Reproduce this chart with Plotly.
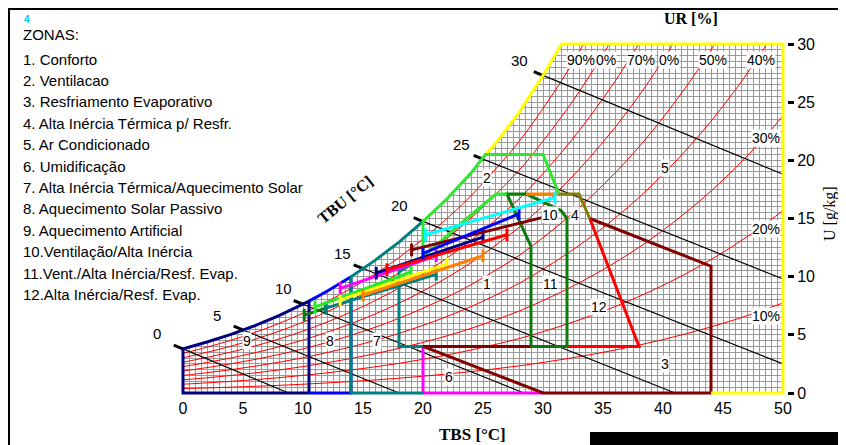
import numpy as np
import plotly.graph_objects as go

# ---------------- data ----------------
# saturation curve (UR 100%), TBS [°C] vs U [g/kg]
SAT_T = [0, 2, 4, 6, 8, 10, 12, 14, 16, 18, 20, 22, 24, 26, 28, 30, 32, 34, 36, 38, 40, 42, 44, 46, 48, 50]
SAT_U = [3.79, 4.38, 5.04, 5.79, 6.65, 7.63, 8.75, 10.0, 11.4, 12.97, 14.75, 16.7, 18.9, 21.4, 24.1, 27.3,
         30.8, 34.7, 39.0, 43.8, 49.2, 55.2, 61.9, 69.4, 77.8, 87.2]
RH_LEVELS = [10, 20, 30, 40, 50, 60, 70, 80, 90]
RH_LABELS = ["10%", "20%", "30%", "40%", "50%", "0%", "70%", "0%", "90%"]
RH_LABEL_T = [48.6, 48.6, 48.6, 48.2, 44.2, 40.5, 38.2, 35.25, 33.2]
RH_LABEL_U = [6.65, 14.1, 21.9, 28.6, 28.6, 28.6, 28.6, 28.6, 28.6]

# wet bulb lines (TBU)
WB_TBU = [0, 5, 10, 15, 20, 25, 30]
WB_START_U = [3.79, 5.42, 7.63, 10.7, 14.75, 20.1, 27.3]
WB_END_T = [8.8, 18.0, 28.4, 41.0, 50.0, 50.0, 50.0]
WB_END_U = [0.0, 0.0, 0.0, 0.0, 2.5, 9.8, 18.8]
WB_LABEL_T = [-2.19, 2.81, 8.36, 13.25, 18.08, 23.22, 28.08]
WB_LABEL_U = [5.14, 6.7, 9.0, 11.95, 16.16, 21.4, 28.62]

# zone outlines (TBS, U)
Z9_T = [10.5, 0, 0, 2, 4, 6, 8, 10, 10.5, 10.5]
Z9_U = [0, 0, 3.79, 4.38, 5.04, 5.79, 6.65, 7.63, 7.9, 0]
Z8_T = [10.5, 14, 14, 12, 10.5]
Z8_U = [0, 0, 10.0, 8.75, 7.9]
Z7_T = [20, 14, 14, 16, 18, 20]
Z7_U = [0, 0, 10.0, 11.4, 12.97, 14.75]
Z7B_T = [20, 18, 18, 20]
Z7B_U = [4, 4, 10.4, 11.7]
Z6_T = [30, 20, 20]
Z6_U = [0, 0, 4]
Z3_T = [38, 20, 30, 44, 44, 33.9]
Z3_U = [4, 4, 0, 0, 10.9, 15.0]
Z12_T = [32, 38, 33.9]
Z12_U = [4, 4, 15.0]
Z11_T = [29, 32, 32, 31.5, 28.6, 27, 29, 29]
Z11_U = [4, 4, 15.0, 15.7, 17.1, 17.1, 12.6, 4]
Z10_T = [28.6, 31.3]
Z10_U = [17.1, 17.1]
Z4_T = [31.3, 33.0, 33.9]
Z4_U = [17.1, 17.1, 15.0]
Z2_T = [27, 26.1, 24, 22, 20, 20, 22, 24, 25.2, 30, 31.3]
Z2_U = [17.1, 17.1, 15.3, 13.5, 11.7, 14.75, 16.7, 18.9, 20.5, 20.5, 17.2]
BORDER_T = [25.2, 26, 28, 30, 31.55, 50, 50, 44]
BORDER_U = [20.5, 21.4, 24.1, 27.3, 30, 30, 0, 0]

# monthly climate lines (min -> max)
M_COLORS = ["#0a7a0a", "#008080", "#22ee22", "#ffff00", "#ff8000", "#ff00ff",
            "#000080", "#ff0000", "#800000", "#0000ff", "#00ffff"]
M_T0 = [10.1, 11.9, 11.0, 13.1, 15.0, 13.1, 16.1, 17.0, 19.05, 20.0, 20.2]
M_U0 = [6.7, 7.3, 7.4, 8.0, 8.4, 9.0, 10.3, 10.6, 12.3, 12.0, 13.6]
M_T1 = [11.9, 21.1, 19.0, 22.0, 25.0, 21.1, 25.0, 27.0, 30.0, 28.0, 31.0]
M_U1 = [7.3, 10.2, 10.4, 11.1, 11.8, 11.8, 13.4, 13.6, 15.1, 15.4, 16.8]

ZONE_NAMES = ["ZONAS:", "1. Conforto", "2. Ventilacao", "3. Resfriamento Evaporativo",
              "4. Alta Inércia Térmica p/ Resfr.", "5. Ar Condicionado", "6. Umidificação",
              "7. Alta Inércia Térmica/Aquecimento Solar", "8. Aquecimento Solar Passivo",
              "9. Aquecimento Artificial", "10.Ventilação/Alta Inércia",
              "11.Vent./Alta Inércia/Resf. Evap.", "12.Alta Inércia/Resf. Evap."]
ZL_TEXT = ["1", "2", "3", "4", "5", "6", "7", "8", "9", "10", "11", "12"]
ZL_T = [25.3, 25.3, 40.2, 32.7, 40.2, 22.2, 16.2, 12.25, 5.3, 30.6, 30.6, 34.7]
ZL_U = [9.4, 18.45, 2.5, 15.3, 19.3, 1.4, 4.5, 4.5, 4.5, 15.3, 9.4, 7.4]

# ---------------- layout geometry (page has an 8px body margin) ----------------
OFF = 8
W, H = 838, 437
ML, MR, MT, MB = 151, 59, 32, 48
XR = [-2.0, 50.333]
YR = [-0.344, 30.344]
PXX = (W - ML - MR) / (XR[1] - XR[0])
PXY = (H - MT - MB) / (YR[1] - YR[0])

def px(xp, yp):
    xf, yf = xp - OFF, yp - OFF
    return (xf - ML) / (W - ML - MR), (H - MB - yf) / (H - MT - MB)

def d2paper(t, u):
    return (t - XR[0]) / (XR[1] - XR[0]), (u - YR[0]) / (YR[1] - YR[0])

fig = go.Figure()

def line(xs, ys, color, width, shape="linear"):
    fig.add_trace(go.Scatter(x=xs, y=ys, mode="lines", line=dict(color=color, width=width, shape=shape),
                             hoverinfo="skip", showlegend=False))

def mask(xs, ys):
    fig.add_trace(go.Scatter(x=xs, y=ys, mode="lines", fill="toself", fillcolor="white",
                             line=dict(width=0, color="white"), hoverinfo="skip", showlegend=False))

sat_in = [(t, u) for t, u in zip(SAT_T, SAT_U) if u < 30]
mxs = [-3, 0] + [t for t, u in sat_in] + [31.55, -3]
mys = [-1, -1] + [u for t, u in sat_in] + [30, 30]
mask(mxs, mys)
mask([-3, 51, 51, -3], [-1, -1, 0, 0])
mask([-3, 51, 51, -3], [30, 30, 31, 31])
mask([50, 51, 51, 50], [-1, -1, 31, 31])

# RH curves
P = 101.325
for phi in RH_LEVELS:
    xs, ys = [], []
    for t, us in zip(SAT_T, SAT_U):
        ps = P * us / (622 + us)
        pv = phi / 100 * ps
        u = 622 * pv / (P - pv)
        if u > 30:
            t0, u0 = xs[-1], ys[-1]
            tc = t0 + (30 - u0) * (t - t0) / (u - u0)
            xs.append(tc); ys.append(30)
            break
        xs.append(t); ys.append(u)
    line(xs, ys, "#ff0000", 1, "spline")

# wet bulb lines with thick outer ticks
for tw, us, te, ue in zip(WB_TBU, WB_START_U, WB_END_T, WB_END_U):
    line([tw, te], [us, ue], "black", 1.2)
    dx, dy = (te - tw) * PXX, (ue - us) * PXY
    n = (dx * dx + dy * dy) ** 0.5
    ux, uy = dx / n, dy / n
    line([tw - 10 * ux / PXX, tw + 1 * ux / PXX], [us - 10 * uy / PXY, us + 1 * uy / PXY], "black", 3)

# zone outlines
ZW = 3
line(Z6_T, Z6_U, "#ff00ff", ZW)
line(Z9_T, Z9_U, "#000080", ZW)
line(Z8_T, Z8_U, "#0000ff", ZW)
line(Z7_T, Z7_U, "#008080", ZW)
line(Z7B_T, Z7B_U, "#008080", ZW)
line(Z3_T, Z3_U, "#800000", ZW)
line(Z12_T, Z12_U, "#ff0000", ZW)
line(Z11_T, Z11_U, "#0a7a0a", ZW)
line(Z10_T, Z10_U, "#ff8000", ZW)
line(Z4_T, Z4_U, "#808000", ZW)
line(BORDER_T, BORDER_U, "#ffff00", ZW)
line(Z2_T, Z2_U, "#2ee82e", ZW)

# monthly lines
for c, t0, u0, t1, u1 in zip(M_COLORS, M_T0, M_U0, M_T1, M_U1):
    fig.add_trace(go.Scatter(x=[t0, t1], y=[u0, u1], mode="lines+markers",
                             line=dict(color=c, width=3),
                             marker=dict(symbol="line-ns", size=9, line=dict(width=3, color=c)),
                             hoverinfo="skip", showlegend=False))

ann = []
LF = "Liberation Sans, Arial, sans-serif"
SF = "Liberation Serif, Times New Roman, serif"

def A(**kw):
    kw.setdefault("showarrow", False)
    kw.setdefault("xanchor", "center")
    kw.setdefault("yanchor", "middle")
    ann.append(kw)

for s, t, u in zip(ZL_TEXT, ZL_T, ZL_U):
    A(x=t, y=u, xref="x", yref="y", text=s, bgcolor="white",
      font=dict(family=LF, size=14, color="black"), borderpad=0)
for s, t, u in zip(RH_LABELS, RH_LABEL_T, RH_LABEL_U):
    A(x=t, y=u, xref="x", yref="y", text=s, bgcolor="white",
      font=dict(family=LF, size=14, color="black"), borderpad=0)
# wet bulb labels (paper coords so labels left of the axis range stay visible)
for tw, t, u in zip(WB_TBU, WB_LABEL_T, WB_LABEL_U):
    x, y = d2paper(t, u)
    A(x=x, y=y, xref="paper", yref="paper", text=str(tw), font=dict(family=LF, size=15, color="black"))
# legend text
for i, s in enumerate(ZONE_NAMES):
    x, y = px(21, 34 if i == 0 else 59 + 21.4 * (i - 1))
    A(x=x, y=y, xref="paper", yref="paper", text=s, xanchor="left",
      font=dict(family=LF, size=15, color="black"))
x, y = px(27, 20)
A(x=x, y=y, xref="paper", yref="paper", text="<b>4</b>", font=dict(family=LF, size=10, color="#00c8e6"))
# axis titles
x, y = px(472, 434)
A(x=x, y=y, xref="paper", yref="paper", text="<b>TBS [°C]</b>", font=dict(family=SF, size=17, color="black"))
x, y = px(691, 19)
A(x=x, y=y, xref="paper", yref="paper", text="<b>UR [%]</b>", font=dict(family=SF, size=16, color="black"))
x, y = px(830, 214)
A(x=x, y=y, xref="paper", yref="paper", text="U [g/kg]", textangle=-90,
  font=dict(family=SF, size=16, color="black"))
x, y = px(345, 199)
A(x=x, y=y, xref="paper", yref="paper", text="<b>TBU [°C]</b>", textangle=-39,
  font=dict(family=SF, size=16, color="black"))

shapes = [
    dict(type="line", xref="paper", yref="paper", x0=px(8, 9)[0], y0=px(8, 9)[1], x1=px(846, 9)[0], y1=px(846, 9)[1],
         line=dict(color="black", width=2)),
    dict(type="line", xref="paper", yref="paper", x0=px(9, 8)[0], y0=px(9, 8)[1], x1=px(9, 445)[0], y1=px(9, 445)[1],
         line=dict(color="black", width=2)),
    dict(type="rect", xref="paper", yref="paper", x0=px(590, 432)[0], y0=px(590, 432)[1], x1=px(846, 445)[0],
         y1=px(846, 445)[1], fillcolor="black", line=dict(width=0)),
]

GRID = "#9a9a9a"
fig.update_layout(
    width=W, height=H, margin=dict(l=ML, r=MR, t=MT, b=MB, autoexpand=False),
    paper_bgcolor="white", plot_bgcolor="white", showlegend=False,
    annotations=ann, shapes=shapes,
    xaxis=dict(range=XR, dtick=5, tick0=0, showgrid=True, gridcolor=GRID, gridwidth=1,
               minor=dict(dtick=0.5, tick0=0, showgrid=True, gridcolor=GRID, gridwidth=1),
               zeroline=False, showline=False, ticks="", tickfont=dict(family=LF, size=16, color="black"),
               fixedrange=True),
    yaxis=dict(range=YR, side="right", dtick=5, tick0=0, showgrid=True, gridcolor=GRID, gridwidth=1,
               minor=dict(dtick=0.5, tick0=0, showgrid=True, gridcolor=GRID, gridwidth=1),
               zeroline=False, showline=False, ticks="outside", ticklen=6, tickwidth=3, tickcolor="black",
               tickfont=dict(family=LF, size=16, color="black"), fixedrange=True),
)

fig.write_html("out.html")
